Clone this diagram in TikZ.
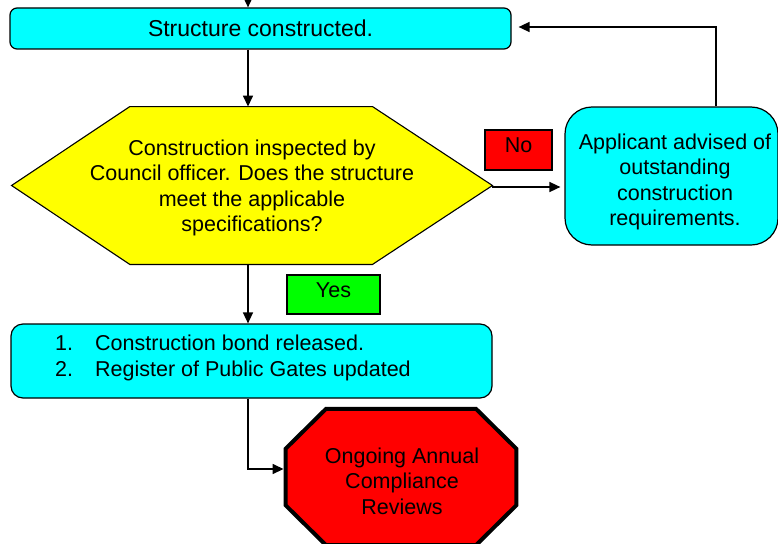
\documentclass[tikz,border=0pt]{standalone}
\usepackage{fontspec}
\setmainfont{Liberation Sans}
\usetikzlibrary{arrows.meta,backgrounds}
\definecolor{cyanfill}{RGB}{0,255,255}
\definecolor{yellowfill}{RGB}{255,255,0}
\definecolor{redfill}{RGB}{255,0,0}
\definecolor{greenfill}{RGB}{0,255,0}
\tikzset{
  box/.style={draw=black, line width=1.2pt, fill=cyanfill, rounded corners=7pt, inner sep=0pt, align=center},
  tag/.style={draw=black, line width=1.2pt, inner sep=0pt, align=center},
  arr/.style={draw=black, line width=1.5pt, -{Triangle[length=11pt,width=10pt]}},
  txt/.style={font=\fontsize{21.5}{25.5}\selectfont, inner sep=0pt},
  ghost/.style={inner sep=0pt}
}
\begin{document}
\begin{tikzpicture}[x=1pt,y=-1pt]
\useasboundingbox (0,0) rectangle (778,543);
\coordinate (col) at (248,0);
\coordinate (topin) at (248,0);
\coordinate (fbx) at (716,0);

% top box
\node[box, minimum width=501pt, minimum height=41pt, font=\fontsize{23}{27}\selectfont] (top) at (260.5,28.5) {Structure constructed.};

% hexagon decision
\node[ghost, minimum width=480.5pt, minimum height=157.5pt] (hex) at (252,185.5) {};
\draw[fill=yellowfill, draw=black, line width=1.1pt]
  (hex.west) -- ([xshift=118.3pt]hex.north west) -- ([xshift=-120pt]hex.north east) -- (hex.east)
  -- ([xshift=-120pt]hex.south east) -- ([xshift=118.3pt]hex.south west) -- cycle;
\node[txt, align=center] (hextext) at (252,188)
  {Construction inspected by\\Council officer. Does the structure\\meet the applicable\\specifications?};

% No / Yes labels
\node[tag, fill=redfill, txt, minimum width=67pt, minimum height=40pt, text depth=9pt] (no) at (518.5,150) {No};
\node[tag, fill=greenfill, txt, minimum width=93pt, minimum height=39pt, text depth=8pt] (yes) at (333.5,294.5) {Yes};

% right box
\node[box, rounded corners=27pt, minimum width=213pt, minimum height=138pt] (rb) at (671.5,176) {};
\node[txt, align=center] (rbtext) at (675,182)
  {Applicant advised of\\outstanding\\construction\\requirements.};

% bottom box
\node[box, rounded corners=12pt, minimum width=481pt, minimum height=74pt] (bb) at (251.5,361) {};
\node[txt, anchor=west, align=left] (bbtext) at (55,358)
  {\makebox[40pt][l]{1.}Construction bond released.\\\makebox[40pt][l]{2.}Register of Public Gates updated};

% octagon
\node[ghost, minimum width=230.5pt, minimum height=136pt] (oct) at (401,477) {};
\draw[fill=redfill, draw=black, line width=4pt, line join=miter]
  ([xshift=40.5pt]oct.north west) -- ([xshift=-40.5pt]oct.north east) -- ([yshift=-40pt]oct.north east)
  -- ([yshift=40pt]oct.south east) -- ([xshift=-40.5pt]oct.south east) -- ([xshift=40.5pt]oct.south west)
  -- ([yshift=40pt]oct.south west) -- ([yshift=-40pt]oct.north west) -- cycle;
\node[txt, align=center] (octtext) at (402,481) {Ongoing Annual\\Compliance\\Reviews};

% connectors
\draw[arr] (topin) -- (topin |- top.north);
\draw[arr] (col |- top.south) -- (col |- hex.north);
\draw[arr, shorten >=4pt] ([yshift=-1.5pt]hex.east) -- ([yshift=-1.5pt]hex.east -| rb.west);
\draw[arr, shorten >=7pt] (fbx |- rb.north) |- ([yshift=1.5pt]top.east);
\draw[arr] (col |- hex.south) -- (col |- bb.north);
\draw[arr, shorten >=2pt] (col |- bb.south) |- ([yshift=8pt]oct.west);
\end{tikzpicture}
\end{document}
